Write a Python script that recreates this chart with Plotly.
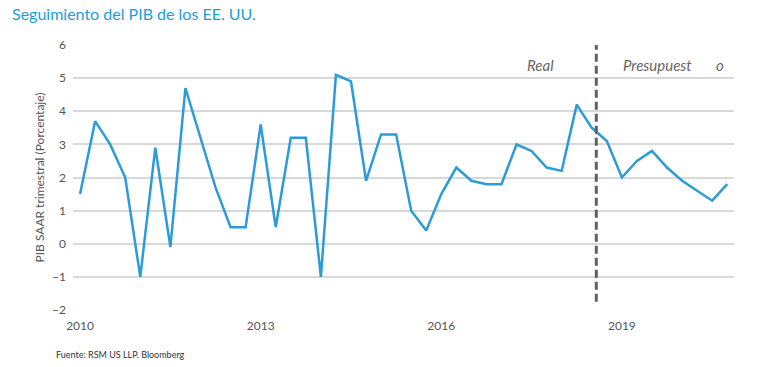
import plotly.graph_objects as go

quarter_index = list(range(44))
gdp_values = [1.5, 3.7, 3.0, 2.0, -1.0, 2.9, -0.1, 4.7, 3.2, 1.7, 0.5, 0.5,
              3.6, 0.5, 3.2, 3.2, -1.0, 5.1, 4.9, 1.9, 3.3, 3.3, 1.0, 0.4,
              1.5, 2.3, 1.9, 1.8, 1.8, 3.0, 2.8, 2.3, 2.2, 4.2, 3.5, 3.1,
              2.0, 2.5, 2.8, 2.3, 1.9, 1.6, 1.3, 1.8]
tick_positions = [0, 12, 24, 36]
tick_labels = ["2010", "2013", "2016", "2019"]
forecast_split = 34.3

FONT = "Lato"
GRAY = "#555555"

fig = go.Figure()
fig.add_trace(go.Scatter(
    x=quarter_index, y=gdp_values, mode="lines",
    line=dict(color="#2b9cd8", width=2.5), hoverinfo="y"))

fig.add_shape(type="line", x0=forecast_split, x1=forecast_split, y0=-1.75, y1=6,
              xref="x", yref="y",
              line=dict(color="#606060", width=3, dash="8px,4px"))

fig.update_layout(
    width=770, height=367,
    margin=dict(l=73, r=36, t=45, b=57),
    paper_bgcolor="white", plot_bgcolor="white",
    showlegend=False,
    font=dict(family=FONT, size=12, color=GRAY),
    title=dict(text="Seguimiento del PIB de los EE. UU.", x=12 / 770, xanchor="left",
               y=1 - 14 / 367, yanchor="middle",
               font=dict(family=FONT, size=16, color="#1aa0dc")),
    annotations=[
        dict(x=30.6, y=5.4, text="<i>Real</i>", showarrow=False,
             font=dict(family=FONT, size=15, color="#666666"), xref="x", yref="y"),
        dict(x=38.35, y=5.4, text="<i>Presupuest</i>", showarrow=False,
             font=dict(family=FONT, size=15, color="#666666"), xref="x", yref="y"),
        dict(x=42.5, y=5.4, text="<i>o</i>", showarrow=False,
             font=dict(family=FONT, size=15, color="#666666"), xref="x", yref="y"),
        dict(x=-19 / 661, y=-44 / 265, xref="paper", yref="paper", xanchor="left",
             yanchor="middle", showarrow=False,
             text="Fuente: RSM US LLP. Bloomberg",
             font=dict(family=FONT, size=9, color="#333333")),
    ],
)

fig.update_xaxes(range=[-0.47, 43.45], tickmode="array", tickvals=tick_positions,
                 ticktext=tick_labels, showgrid=False, zeroline=False,
                 showline=False, ticks="", ticklabelstandoff=7,
                 tickfont=dict(size=12, color=GRAY))
fig.update_yaxes(range=[-2, 6], dtick=1, showgrid=True, gridcolor="#d9d9d9",
                 gridwidth=1.5, zeroline=False, showline=False, ticks="",
                 ticklabelstandoff=6,
                 tickfont=dict(size=12, color=GRAY),
                 title=dict(text="PIB SAAR trimestral (Porcentaje)", standoff=4,
                            font=dict(size=12, color=GRAY)))

fig.write_html("out.html", config={"displayModeBar": False},
               post_script="document.body.style.margin='0';")
